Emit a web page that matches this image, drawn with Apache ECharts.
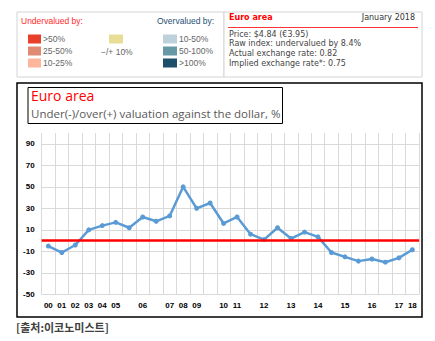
<!DOCTYPE html>
<html>
<head>
<meta charset="utf-8">
<script src="https://cdn.jsdelivr.net/npm/echarts@6/dist/echarts.min.js"></script>
<style>
html,body{margin:0;padding:0;background:#fff;}
#c{width:435px;height:341px;}
</style>
</head>
<body>
<div id="c"></div>
<script>
// ---- data ----
var categories = ['00','01','02','03','04','05','','06','','07','08','09','','10','11','','12','','13','','14','','15','','16','','17','18'];
var valuation = [-5, -11, -4, 10, 14, 17, 12, 22, 18, 23, 50, 30, 35, 16, 22, 6, 1, 12, 2, 8, 3.5, -11, -15, -19, -17, -20, -16, -8.4];
var yLabelValues = [-50, -30, -10, 10, 30, 50, 70, 90];
var underLabels = ['>50%', '25-50%', '10-25%'];
var underColors = ['#e8402a', '#e08a74', '#fdb59b'];
var overLabels = ['10-50%', '50-100%', '>100%'];
var overColors = ['#bdd1da', '#6699a6', '#1b4f6a'];
var infoLines = ['Price: $4.84 (€3.95)', 'Raw index: undervalued by 8.4%', 'Actual exchange rate: 0.82', 'Implied exchange rate*: 0.75'];

var chart = echarts.init(document.getElementById('c'), null, {renderer: 'svg'});

var legendFont = '8.5px "Liberation Sans", Arial, sans-serif';
var infoFont = '8px "DejaVu Sans", Verdana, sans-serif';
var g = [];
// top panel boxes
g.push({type:'rect', shape:{x:17, y:12, width:207, height:65}, style:{fill:'#fff', stroke:'#d4d4d4', lineWidth:1}});
g.push({type:'rect', shape:{x:224, y:12, width:198, height:65}, style:{fill:'#fff', stroke:'#d4d4d4', lineWidth:1}});
g.push({type:'text', left:21, top:16, style:{text:'Undervalued by:', font:legendFont, fill:'#ff2a2a'}});
g.push({type:'text', left:157, top:16, style:{text:'Overvalued by:', font:legendFont, fill:'#1f4f73'}});
underLabels.forEach(function(t, i){
  g.push({type:'rect', shape:{x:28, y:34.5 + i*12, width:13, height:9}, style:{fill:underColors[i]}});
  g.push({type:'text', left:43, top:34.5 + i*12, style:{text:t, font:legendFont, fill:'#666'}});
});
g.push({type:'rect', shape:{x:109, y:34.5, width:14, height:9}, style:{fill:'#e8dc97'}});
g.push({type:'text', left:101, top:47, style:{text:'\u2212/+ 10%', font:legendFont, fill:'#666'}});
overLabels.forEach(function(t, i){
  g.push({type:'rect', shape:{x:163, y:34.5 + i*12, width:14, height:9}, style:{fill:overColors[i]}});
  g.push({type:'text', left:179, top:34.5 + i*12, style:{text:t, font:legendFont, fill:'#666'}});
});
// info box
g.push({type:'text', left:229, top:13.5, style:{text:'Euro area', font:'bold 8px "DejaVu Sans", Verdana, sans-serif', fill:'#ff0000'}});
g.push({type:'text', right:20, top:13.5, style:{text:'January 2018', font:infoFont, fill:'#333'}});
g.push({type:'line', shape:{x1:228, y1:27.5, x2:418, y2:27.5}, style:{stroke:'#ff3333', lineWidth:1}});
infoLines.forEach(function(t, i){
  g.push({type:'text', left:229, top:30 + i*9.7, style:{text:t, font:infoFont, fill:'#444'}});
});
// chart border
g.push({type:'rect', shape:{x:17, y:83, width:405, height:234}, style:{fill:'none', stroke:'#000', lineWidth:1.5}, z:-1});
// title box
g.push({type:'rect', shape:{x:28, y:87.5, width:254.5, height:36}, style:{fill:'#fff', stroke:'#000', lineWidth:1}});
g.push({type:'text', left:31, top:88.5, style:{text:'Euro area', font:'14px "Open Sans", "Noto Sans", sans-serif', fill:'#ff0000'}});
g.push({type:'text', left:31, top:107.5, style:{text:'Under(-)/over(+) valuation against the dollar, %', font:'11.5px "Open Sans", "Noto Sans", sans-serif', fill:'#595959'}});
// source
g.push({type:'text', left:16, top:321, style:{text:'[출처:이코노미스트]', font:'bold 11px "Noto Sans CJK KR", sans-serif', fill:'#404040'}});

chart.setOption({
  animation: false,
  grid: {left: 41.6, right: 15.9, top: 133, bottom: 46.5},
  xAxis: {
    type: 'category',
    data: categories,
    boundaryGap: true,
    axisLine: {show: false},
    axisTick: {show: false},
    axisLabel: {interval: 0, margin: 7, color: '#000', fontWeight: 'bold', fontSize: 8, fontFamily: '"Liberation Sans", Arial, sans-serif'},
    splitLine: {show: true, interval: 0, lineStyle: {color: '#d9d9d9', width: 1}}
  },
  yAxis: {
    type: 'value',
    min: -50, max: 100, interval: 10,
    axisLine: {show: false},
    axisTick: {show: false},
    axisLabel: {
      margin: 7, color: '#000', fontWeight: 'bold', fontSize: 8, fontFamily: '"Liberation Sans", Arial, sans-serif',
      formatter: function(v){ return yLabelValues.indexOf(v) >= 0 ? String(v) : ''; }
    },
    splitLine: {show: true, lineStyle: {color: ['#d9d9d9', 'rgba(0,0,0,0)'], width: 1}}
  },
  series: [{
    type: 'line',
    data: valuation,
    symbol: 'circle',
    symbolSize: 5,
    lineStyle: {color: '#5b9bd5', width: 2.5},
    itemStyle: {color: '#5b9bd5'},
    markLine: {
      silent: true,
      symbol: 'none',
      label: {show: false},
      lineStyle: {color: '#ff0000', width: 2.5, type: 'solid'},
      data: [{yAxis: 0}]
    }
  }],
  graphic: g
});
</script>
</body>
</html>
